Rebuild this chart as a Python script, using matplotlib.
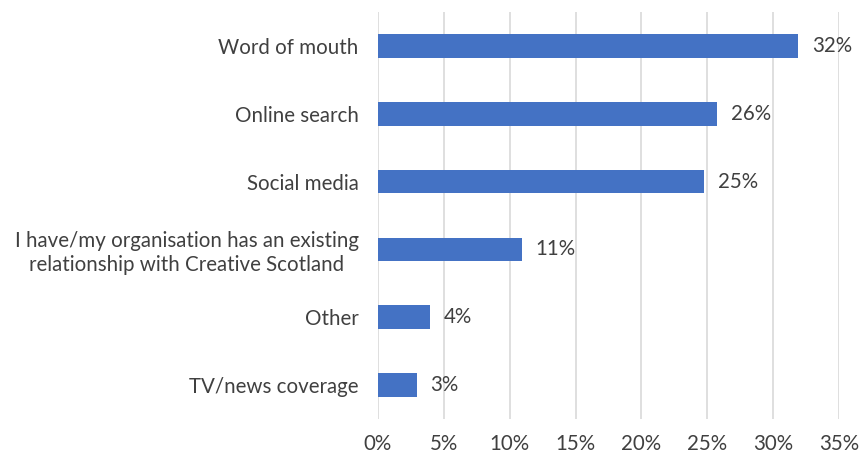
import matplotlib
matplotlib.use("Agg")
import matplotlib.pyplot as plt
from matplotlib.ticker import FuncFormatter

categories = [
    "Word of mouth",
    "Online search",
    "Social media",
    "I have/my organisation has an existing\nrelationship with Creative Scotland",
    "Other",
    "TV/news coverage",
]
shares = [31.9, 25.7, 24.75, 10.9, 3.93, 2.93]
x_ticks = [0, 5, 10, 15, 20, 25, 30, 35]

text_color = "#404040"
bar_color = "#4472C4"
grid_color = "#D9D9D9"
font_size = 14.8

plt.rcParams["font.family"] = ["Lato", "DejaVu Sans"]

fig = plt.figure(figsize=(8.61, 4.54), dpi=100)
ax = fig.add_axes([378 / 861, 1 - 419 / 454, (839 - 378) / 861, (419 - 12) / 454])

pos = list(range(len(categories)))
ax.barh(pos, shares, height=0.35, color=bar_color, zorder=3)

for y, v in zip(pos, shares):
    ax.annotate(f"{v:.0f}%", xy=(v, y), xytext=(14, 0), textcoords="offset pixels",
                va="center", ha="left", fontsize=font_size, color=text_color)

ax.set_xlim(0, 35)
ax.set_ylim(len(categories) - 0.5, -0.5)
ax.set_xticks(x_ticks)
ax.xaxis.set_major_formatter(FuncFormatter(lambda v, _: f"{v:.0f}%"))
ax.set_yticks(pos)
ax.set_yticklabels(categories, multialignment="center")

ax.tick_params(axis="both", length=0, labelsize=font_size, labelcolor=text_color)
ax.tick_params(axis="x", pad=10.5)
ax.tick_params(axis="y", pad=14)

ax.grid(axis="x", color=grid_color, linewidth=1.2, zorder=0)
ax.grid(axis="y", visible=False)
for s in ax.spines.values():
    s.set_visible(False)

fig.savefig("out.png", dpi=100, facecolor="white")
